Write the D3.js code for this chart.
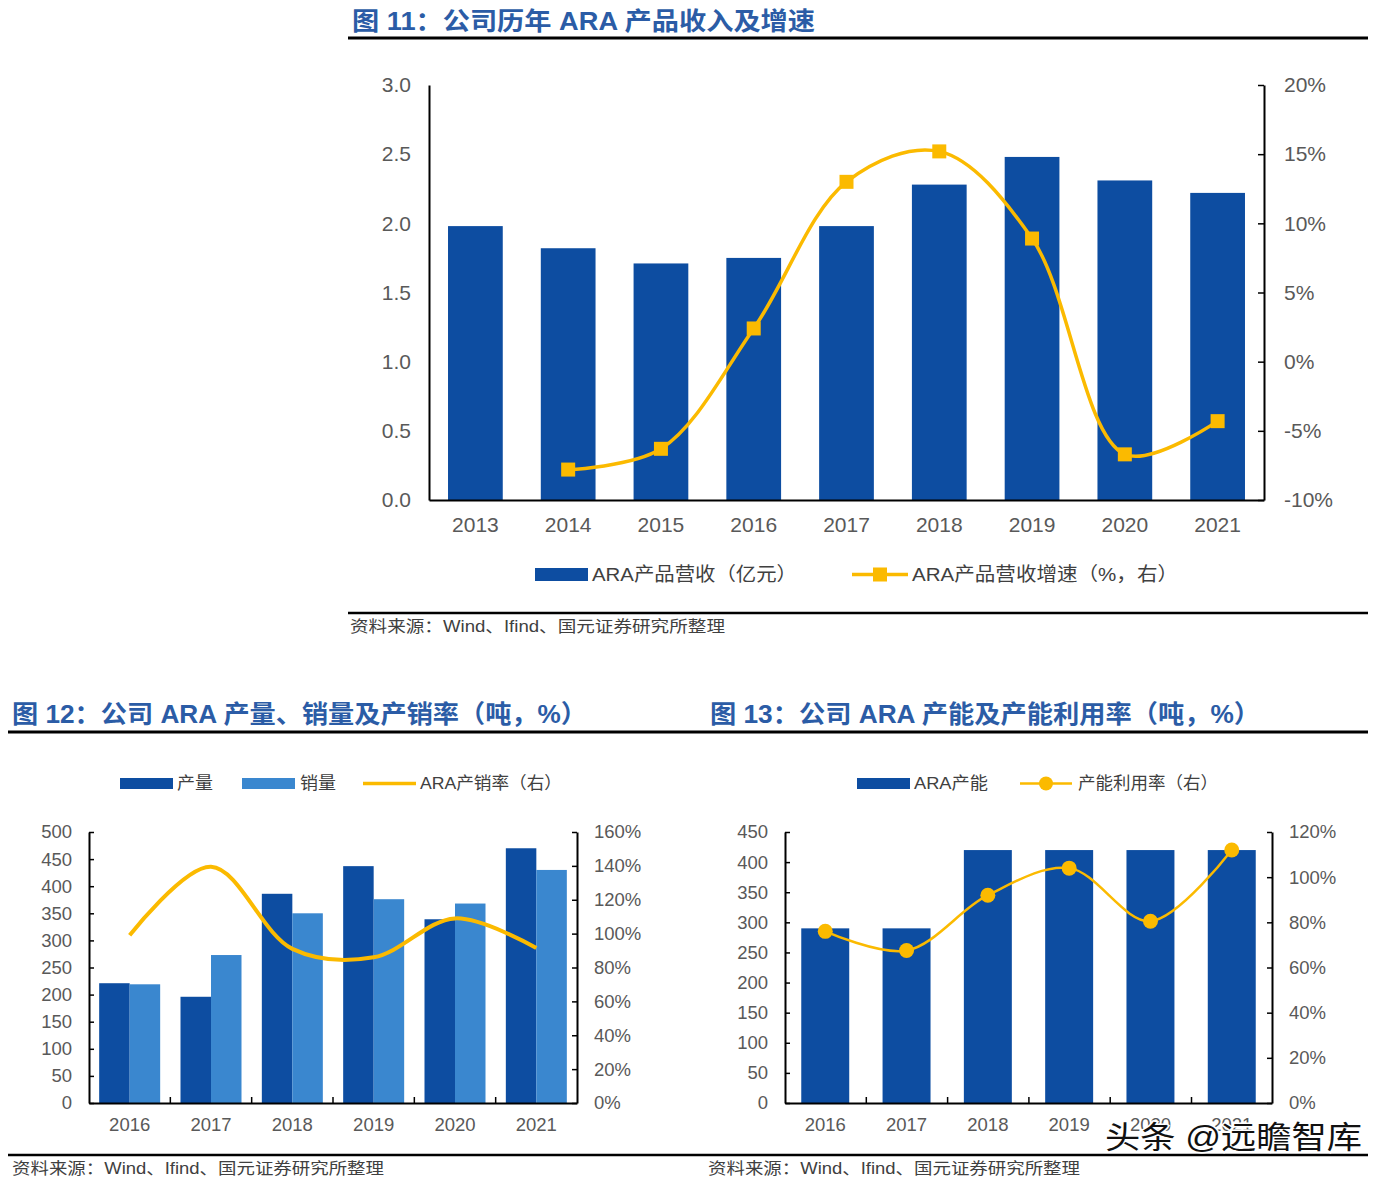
<!DOCTYPE html>
<html><head><meta charset="utf-8">
<script src="https://cdn.jsdelivr.net/npm/d3@7"></script>
<style>
body{margin:0;background:#fff}
svg{display:block}
text{font-family:"Liberation Sans","Noto Sans CJK SC",sans-serif}
</style>
</head><body>
<svg id="c" width="1393" height="1183"></svg>
<script>
// ---------- DATA ----------
const years1 = ["2013","2014","2015","2016","2017","2018","2019","2020","2021"];
const revenue = [1.98,1.82,1.71,1.75,1.98,2.28,2.48,2.31,2.22];        // 亿元
const growth  = [null,-7.8,-6.3,2.4,13.0,15.2,8.9,-6.7,-4.3];           // %
const ticks1L = [0,0.5,1.0,1.5,2.0,2.5,3.0];
const ticks1R = [-10,-5,0,5,10,15,20];

const years2 = ["2016","2017","2018","2019","2020","2021"];
const production = [221,196,386,437,339,470];   // 吨
const sales      = [219,273,350,376,368,430];   // 吨
const saleRate   = [99,139.5,91,86,109,91.5];   // %
const ticks2L = [0,50,100,150,200,250,300,350,400,450,500];
const ticks2R = [0,20,40,60,80,100,120,140,160];

const years3 = ["2016","2017","2018","2019","2020","2021"];
const capacity = [290,290,420,420,420,420];     // 吨
const utilRate = [76,67.5,92,104,80.5,112];     // %
const ticks3L = [0,50,100,150,200,250,300,350,400,450];
const ticks3R = [0,20,40,60,80,100,120];

// ---------- STYLE ----------
const DARK = "#0D4DA1", LIGHT = "#3A87CF", GOLD = "#FBBA00";
const LABEL = "#595959", TITLE = "#2B5CA6";
const svg = d3.select("#c");

function styleAxis(g, fs){
  g.selectAll(".domain").attr("stroke","#000").attr("stroke-width",2);
  g.selectAll(".tick line").attr("stroke","#000").attr("stroke-width",1.5);
  g.selectAll(".tick text").attr("fill",LABEL).attr("font-size",fs).attr("font-family",'"Liberation Sans",sans-serif');
}
function rule(x1,x2,y,w){
  svg.append("line").attr("x1",x1).attr("x2",x2).attr("y1",y).attr("y2",y).attr("stroke","#000").attr("stroke-width",w);
}
function txt(x,y,s,o){
  o=o||{};
  const t=svg.append("text").attr("x",x).attr("y",y).text(s)
    .attr("font-size",o.fs||16).attr("fill",o.fill||"#404040")
    .attr("font-weight",o.fw||"normal");
  if(o.len) t.attr("textLength",o.len).attr("lengthAdjust","spacingAndGlyphs");
  if(o.anchor) t.attr("text-anchor",o.anchor);
  return t;
}
function bottomTicks(g, x, y0){
  const n = x.domain().length, st = x.step(), r = x.range();
  for(let i=1;i<n;i++){
    const xx = r[0] + i*st;
    g.append("line").attr("x1",xx).attr("x2",xx).attr("y1",y0).attr("y2",y0-6).attr("stroke","#000").attr("stroke-width",1.5);
  }
}

// ============ CHART 1 ============
txt(352,30,"图 11：公司历年 ARA 产品收入及增速",{fs:25,fw:"bold",fill:TITLE,len:463});
rule(348,1368,38,3);
{
  const L=429,R=1264,T=85,B=500;
  const x=d3.scaleBand().domain(years1).range([L,R]).paddingInner(0.41).paddingOuter(0.205);
  const yL=d3.scaleLinear().domain([0,3]).range([B,T]);
  const yR=d3.scaleLinear().domain([-10,20]).range([B,T]);
  const g=svg.append("g");
  g.selectAll("rect.b").data(years1).enter().append("rect")
    .attr("x",d=>x(d)).attr("width",x.bandwidth())
    .attr("y",(d,i)=>yL(revenue[i])).attr("height",(d,i)=>B-yL(revenue[i]))
    .attr("fill",DARK);
  const pts=years1.map((d,i)=>({x:x(d)+x.bandwidth()/2,v:growth[i]})).filter(p=>p.v!==null);
  g.append("path").datum(pts)
    .attr("d",d3.line().x(p=>p.x).y(p=>yR(p.v)).curve(d3.curveCatmullRom.alpha(0.5)))
    .attr("fill","none").attr("stroke",GOLD).attr("stroke-width",3.5);
  g.selectAll("rect.m").data(pts).enter().append("rect")
    .attr("x",p=>p.x-7).attr("y",p=>yR(p.v)-7).attr("width",14).attr("height",14).attr("fill",GOLD);
  const aL=svg.append("g").attr("transform",`translate(${L},0)`)
    .call(d3.axisLeft(yL).tickValues(ticks1L).tickFormat(d3.format(".1f")).tickSize(0).tickPadding(18));
  styleAxis(aL,21);
  const aR=svg.append("g").attr("transform",`translate(${R},0)`)
    .call(d3.axisRight(yR).tickValues(ticks1R).tickFormat(d=>d+"%").tickSize(-6).tickSizeOuter(0).tickPadding(20));
  styleAxis(aR,21);
  const aB=svg.append("g").attr("transform",`translate(0,${B})`)
    .call(d3.axisBottom(x).tickSize(0).tickPadding(17));
  styleAxis(aB,21);
  // legend
  svg.append("rect").attr("x",535).attr("y",568).attr("width",53).attr("height",13).attr("fill",DARK);
  txt(592,581,"ARA产品营收（亿元）",{fs:19,len:205});
  svg.append("line").attr("x1",852).attr("x2",908).attr("y1",574.5).attr("y2",574.5).attr("stroke",GOLD).attr("stroke-width",3.5);
  svg.append("rect").attr("x",873).attr("y",567.5).attr("width",14).attr("height",14).attr("fill",GOLD);
  txt(912,581,"ARA产品营收增速（%，右）",{fs:19,len:266});
}
rule(348,1368,613,2.5);
txt(350,632,"资料来源：Wind、Ifind、国元证券研究所整理",{fs:16,len:375});

// ============ Titles row 2 ============
txt(12,723,"图 12：公司 ARA 产量、销量及产销率（吨，%）",{fs:25,fw:"bold",fill:TITLE,len:575});
txt(710,723,"图 13：公司 ARA 产能及产能利用率（吨，%）",{fs:25,fw:"bold",fill:TITLE,len:550});
rule(8,1368,732,3);

// ============ CHART 2 ============
{
  const L=89,R=577,T=832,B=1103;
  const x=d3.scaleBand().domain(years2).range([L,R]).paddingInner(0.25).paddingOuter(0.125);
  const xs=d3.scaleBand().domain(["p","s"]).range([0,x.bandwidth()]);
  const yL=d3.scaleLinear().domain([0,500]).range([B,T]);
  const yR=d3.scaleLinear().domain([0,160]).range([B,T]);
  const g=svg.append("g");
  g.selectAll("rect.p").data(years2).enter().append("rect")
    .attr("x",d=>x(d)+xs("p")).attr("width",xs.bandwidth())
    .attr("y",(d,i)=>yL(production[i])).attr("height",(d,i)=>B-yL(production[i])).attr("fill",DARK);
  g.selectAll("rect.s").data(years2).enter().append("rect")
    .attr("x",d=>x(d)+xs("s")).attr("width",xs.bandwidth())
    .attr("y",(d,i)=>yL(sales[i])).attr("height",(d,i)=>B-yL(sales[i])).attr("fill",LIGHT);
  const pts=years2.map((d,i)=>({x:x(d)+x.bandwidth()/2,v:saleRate[i]}));
  g.append("path").datum(pts)
    .attr("d",d3.line().x(p=>p.x).y(p=>yR(p.v)).curve(d3.curveCatmullRom.alpha(0.5)))
    .attr("fill","none").attr("stroke",GOLD).attr("stroke-width",4);
  const aL=svg.append("g").attr("transform",`translate(${L},0)`)
    .call(d3.axisLeft(yL).tickValues(ticks2L).tickSize(-5).tickSizeOuter(0).tickPadding(17));
  styleAxis(aL,18.5);
  const aR=svg.append("g").attr("transform",`translate(${R},0)`)
    .call(d3.axisRight(yR).tickValues(ticks2R).tickFormat(d=>d+"%").tickSize(-5).tickSizeOuter(0).tickPadding(17));
  styleAxis(aR,18.5);
  const aB=svg.append("g").attr("transform",`translate(0,${B})`)
    .call(d3.axisBottom(x).tickSize(0).tickPadding(15));
  styleAxis(aB,18.5);
  bottomTicks(svg.append("g"),x,B);
  // legend
  svg.append("rect").attr("x",120).attr("y",778).attr("width",53).attr("height",11).attr("fill",DARK);
  txt(177,789,"产量",{fs:17,len:36});
  svg.append("rect").attr("x",242).attr("y",778).attr("width",53).attr("height",11).attr("fill",LIGHT);
  txt(300,789,"销量",{fs:17,len:36});
  svg.append("line").attr("x1",363).attr("x2",416).attr("y1",783.5).attr("y2",783.5).attr("stroke",GOLD).attr("stroke-width",3.5);
  txt(420,789,"ARA产销率（右）",{fs:17,len:142});
}

// ============ CHART 3 ============
{
  const L=785,R=1272,T=832,B=1103;
  const x=d3.scaleBand().domain(years3).range([L,R]).paddingInner(0.41).paddingOuter(0.2);
  const yL=d3.scaleLinear().domain([0,450]).range([B,T]);
  const yR=d3.scaleLinear().domain([0,120]).range([B,T]);
  const g=svg.append("g");
  g.selectAll("rect.c").data(years3).enter().append("rect")
    .attr("x",d=>x(d)).attr("width",x.bandwidth())
    .attr("y",(d,i)=>yL(capacity[i])).attr("height",(d,i)=>B-yL(capacity[i])).attr("fill",DARK);
  const pts=years3.map((d,i)=>({x:x(d)+x.bandwidth()/2,v:utilRate[i]}));
  g.append("path").datum(pts)
    .attr("d",d3.line().x(p=>p.x).y(p=>yR(p.v)).curve(d3.curveCatmullRom.alpha(0.5)))
    .attr("fill","none").attr("stroke",GOLD).attr("stroke-width",2.5);
  g.selectAll("circle").data(pts).enter().append("circle")
    .attr("cx",p=>p.x).attr("cy",p=>yR(p.v)).attr("r",7.5).attr("fill",GOLD);
  const aL=svg.append("g").attr("transform",`translate(${L},0)`)
    .call(d3.axisLeft(yL).tickValues(ticks3L).tickSize(-5).tickSizeOuter(0).tickPadding(17));
  styleAxis(aL,18.5);
  const aR=svg.append("g").attr("transform",`translate(${R},0)`)
    .call(d3.axisRight(yR).tickValues(ticks3R).tickFormat(d=>d+"%").tickSize(-5).tickSizeOuter(0).tickPadding(17));
  styleAxis(aR,18.5);
  const aB=svg.append("g").attr("transform",`translate(0,${B})`)
    .call(d3.axisBottom(x).tickSize(0).tickPadding(15));
  styleAxis(aB,18.5);
  bottomTicks(svg.append("g"),x,B);
  // legend
  svg.append("rect").attr("x",857).attr("y",778).attr("width",53).attr("height",11).attr("fill",DARK);
  txt(914,789,"ARA产能",{fs:17,len:74});
  svg.append("line").attr("x1",1020).attr("x2",1072).attr("y1",783.5).attr("y2",783.5).attr("stroke",GOLD).attr("stroke-width",2.5);
  svg.append("circle").attr("cx",1046).attr("cy",783.5).attr("r",7).attr("fill",GOLD);
  txt(1078,789,"产能利用率（右）",{fs:17,len:140});
}

rule(8,1368,1155,2.5);
txt(12,1174,"资料来源：Wind、Ifind、国元证券研究所整理",{fs:16,len:372});
txt(708,1174,"资料来源：Wind、Ifind、国元证券研究所整理",{fs:16,len:372});

// watermark (overlays the axis labels, as in the reference)
svg.append("text").attr("x",1105).attr("y",1148).text("头条 @远瞻智库")
  .attr("font-size",31).attr("fill","#111").attr("stroke","#fff").attr("stroke-width",3)
  .attr("paint-order","stroke").attr("textLength",257).attr("lengthAdjust","spacingAndGlyphs");
</script>
</body></html>
